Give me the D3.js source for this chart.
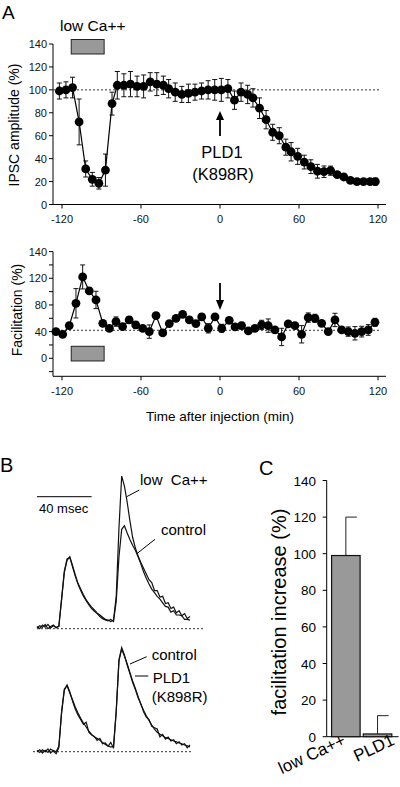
<!DOCTYPE html>
<html><head><meta charset="utf-8">
<script src="https://cdn.jsdelivr.net/npm/d3@7"></script>
<style>
html,body{margin:0;padding:0;background:#fff;}
svg{display:block;font-family:"Liberation Sans",Arial,sans-serif;}
</style></head>
<body><svg id="c" width="400" height="787"></svg>
<script>
// ---------- Panel A (top): IPSC amplitude ----------
const timesTop = [-122,-117,-112,-107,-102,-97,-92,-87,-82,-78,-73,-68,-63,-58,-53,-48,-43,-39,-34,-29,-24,-19,-14,-9,-4,1,6,11,16,21,25,30,35,40,45,50,54,59,64,69,74,79,84,89,94,99,104,109,114,118];
const ipscAmp = [99,100,102,72,31,22,18.5,30,88,104,104,105,103,103,107,105,104,101,98,96,97,98,99,100,100,100,101,91,98,96,93,84,74,63,60,50,46,42,37,33,29,28.6,29.5,26,24,21,20,20,20,20];
const ipscErr = [7,7,9,20,7,6,5,14,10,12,10,11,9,10,8,10,8,8,8,7,8,7,7,8,9,10,8,8,8,8,8,9,8,7,7,7,8,7,6,6,6,5,4,2,2,2,2,2,2,3];
// ---------- Panel A (bottom): facilitation ----------
const timesBot = [-124.6,-119.5,-114.5,-109.4,-104.3,-99.3,-94.2,-89,-84,-79,-74,-69,-64,-58.7,-53.7,-48.6,-43.5,-38.5,-33.4,-28.4,-23.3,-18.3,-13.9,-8.9,-3.8,1.3,7,11.4,16.4,21.5,26.5,31.6,36.6,41.7,46.8,51.8,56.9,62,67,72.1,77.2,82.2,87.3,92.4,97.4,102.5,107.6,112.6,117.7];
const facil = [40,36,49,82.5,122,101,87.5,52.5,45,55,47.5,57.5,50,45,40,64,38,52,60,66,57.5,52,62,45,62,45,57,47,49,41,45,50,49,42.5,32,51.5,49,36,61,60,52.5,40,57.5,42.5,40,37.5,40,42.5,54];
const facilErr = [3,3,4,22,18,4,13,4,3,7,3,5,5,4,10,3,3,3,3,3,3,3,5,7,3,6,3,4,5,3,3,7,10,4,13,3,3,13,7,6,3,3,10,3,7,10,8,8,6];
const xTicks = [-120,-60,0,60,120];
const ampTicks = [0,20,40,60,80,100,120,140];
const facTickVals = [-20,0,20,40,60,80,100,120,140,160];
const facTickLabels = {0:"0",40:"40",80:"80",120:"120",160:"140"};
const lowCaPeriod = [-113,-88];
const ampBaseline = 100, facBaseline = 42, injectionTime = 0;
// ---------- Panel B: traces (ms, normalized amplitude) ----------
const traceTimes = d3.range(0, 113, 2);
const traceCtrlTop = [3,0,5,2,6,1,4,2,3,42,80,97,99,86,73,62,53,45,39,33,28,24,21,17,14,12,11,13,10,38,100,138,143,133,124,116,109,100,90,79,70,62,55,50,45,41,36,31,30,23,25,19,19,18,13,13,12];
const traceLowCa = [1,4,2,6,0,3,5,1,4,40,78,95,100,88,75,63,55,47,40,35,30,26,22,19,16,13,12,10,12,45,140,212,198,176,150,127,112,101,92,84,76,68,64,53,53,44,45,35,36,28,30,22,25,18,21,14,17];
const traceCtrlBot = [2,-1,3,0,4,-2,2,0,8,60,94,99,88,78,67,58,50,43,37,31,26,22,20,17,14,11,9,7,8,62,136,154,143,132,119,106,95,83,71,62,54,47,40,34,29,26,24,21,20,18,16,15,13,12,10,9,7];
const tracePLD1 = [0,3,-2,2,-1,4,1,-3,6,58,92,100,90,76,64,55,48,41,44,29,25,23,17,20,12,13,8,14,5,60,138,156,145,130,117,104,93,81,72,60,52,48,38,36,34,22,26,19,22,16,18,12,15,10,12,6,10];
const scaleBarMs = 40;
// ---------- Panel C: bars ----------
const barCats = ["low Ca++","PLD1"];
const barVals = [99,1.5];
const barErrs = [21,10];
const cTicks = [0,20,40,60,80,100,120,140];

const svg = d3.select("#c");
const F = "Liberation Sans, Arial, sans-serif";

// scales
const x = d3.scaleLinear().domain([-120,120]).range([62,378]);
const yTop = d3.scaleLinear().domain([0,140]).range([204.5,44]);
const yBot = d3.scaleLinear().domain([-27,160]).range([376.3,251.6]);

function drawAxes(yS, yTickVals, labelFn, axisYpos, yTopVal) {
  const g = svg.append("g");
  // y axis line
  g.append("line").attr("x1",53).attr("x2",53).attr("y1",yS(yTopVal)).attr("y2",axisYpos).attr("stroke","#000");
  yTickVals.forEach(v=>{
    g.append("line").attr("x1",49).attr("x2",53).attr("y1",yS(v)).attr("y2",yS(v)).attr("stroke","#000");
    const lab = labelFn(v);
    if (lab!==null) g.append("text").attr("x",47).attr("y",yS(v)+4).attr("text-anchor","end")
      .attr("font-size",11).attr("fill","#111").text(lab);
  });
  g.append("line").attr("x1",53).attr("x2",386).attr("y1",axisYpos).attr("y2",axisYpos).attr("stroke","#000");
  xTicks.forEach(v=>{
    g.append("line").attr("x1",x(v)).attr("x2",x(v)).attr("y1",axisYpos).attr("y2",axisYpos+4).attr("stroke","#000");
    g.append("text").attr("x",x(v)).attr("y",axisYpos+18.5).attr("text-anchor","middle")
      .attr("font-size",11).attr("fill","#111").text(v);
  });
}
drawAxes(yTop, ampTicks, v=>String(v), yTop(0), 140);
drawAxes(yBot, facTickVals, v=> (v in facTickLabels ? facTickLabels[v] : null), yBot(-27), 160);

// baselines
svg.append("line").attr("x1",53).attr("x2",x(120)+2).attr("y1",yTop(ampBaseline)).attr("y2",yTop(ampBaseline))
  .attr("stroke","#333").attr("stroke-dasharray","2,2");
svg.append("line").attr("x1",53).attr("x2",x(120)+2).attr("y1",yBot(facBaseline)).attr("y2",yBot(facBaseline))
  .attr("stroke","#333").attr("stroke-dasharray","2,2");

function drawSeries(times, vals, errs, yS) {
  const g = svg.append("g");
  const pts = times.map((t,i)=>({t, v:vals[i], e:errs[i]}));
  pts.forEach(p=>{
    const cx = x(p.t);
    g.append("line").attr("x1",cx).attr("x2",cx).attr("y1",yS(p.v+p.e)).attr("y2",yS(p.v-p.e)).attr("stroke","#111");
    [p.v+p.e,p.v-p.e].forEach(w=>g.append("line").attr("x1",cx-2.5).attr("x2",cx+2.5).attr("y1",yS(w)).attr("y2",yS(w)).attr("stroke","#111"));
  });
  g.append("path").datum(pts).attr("fill","none").attr("stroke","#000").attr("stroke-width",1.2)
    .attr("d", d3.line().x(d=>x(d.t)).y(d=>yS(d.v)));
  g.selectAll("circle").data(pts).enter().append("circle")
    .attr("cx",d=>x(d.t)).attr("cy",d=>yS(d.v)).attr("r",4.4).attr("fill","#000");
}
drawSeries(timesTop, ipscAmp, ipscErr, yTop);
drawSeries(timesBot, facil, facilErr, yBot);

// low Ca++ boxes
svg.append("rect").attr("x",x(lowCaPeriod[0])).attr("width",x(lowCaPeriod[1])-x(lowCaPeriod[0]))
  .attr("y",39.5).attr("height",14.5).attr("fill","#999").attr("stroke","#222").attr("stroke-width",1);
svg.append("rect").attr("x",x(lowCaPeriod[0])).attr("width",x(lowCaPeriod[1])-x(lowCaPeriod[0]))
  .attr("y",yBot(18)).attr("height",yBot(-4)-yBot(18)).attr("fill","#999").attr("stroke","#222").attr("stroke-width",1);

// labels panel A
svg.append("text").attr("x",2).attr("y",19).attr("font-size",19).text("A");
svg.append("text").attr("x",60).attr("y",31).attr("font-size",15.5).text("low Ca++");
svg.append("text").attr("transform","translate(19,125) rotate(-90)").attr("text-anchor","middle").attr("font-size",14).text("IPSC amplitude (%)");
svg.append("text").attr("transform","translate(21.5,310) rotate(-90)").attr("text-anchor","middle").attr("font-size",14).text("Facilitation (%)");
svg.append("text").attr("x",220).attr("y",421).attr("text-anchor","middle").attr("font-size",13.5).text("Time after injection (min)");
svg.append("text").attr("x",222).attr("y",158).attr("text-anchor","middle").attr("font-size",16.5).text("PLD1");
svg.append("text").attr("x",223).attr("y",180).attr("text-anchor","middle").attr("font-size",16.5).text("(K898R)");

// arrows
const ax = x(injectionTime);
svg.append("line").attr("x1",ax).attr("x2",ax).attr("y1",136).attr("y2",116).attr("stroke","#000").attr("stroke-width",1.8);
svg.append("path").attr("d",`M${ax-4},${120} L${ax},${111} L${ax+4},${120} Z`).attr("fill","#000");
svg.append("line").attr("x1",ax).attr("x2",ax).attr("y1",283).attr("y2",303).attr("stroke","#000").attr("stroke-width",1.8);
svg.append("path").attr("d",`M${ax-4},${300} L${ax},${310} L${ax+4},${300} Z`).attr("fill","#000");

// ---------- Panel B ----------
const xt = d3.scaleLinear().domain([0,112]).range([37,190]);
const yT1 = d3.scaleLinear().domain([0,100]).range([628.7,556.7]);
const yT2 = d3.scaleLinear().domain([0,100]).range([751.7,685]);
svg.append("text").attr("x",0).attr("y",472).attr("font-size",20).text("B");
svg.append("line").attr("x1",xt(0)).attr("x2",xt(scaleBarMs)).attr("y1",496.7).attr("y2",496.7).attr("stroke","#000");
svg.append("text").attr("x",39).attr("y",513).attr("font-size",13).text("40 msec");
svg.append("line").attr("x1",37).attr("x2",205).attr("y1",yT1(0)).attr("y2",yT1(0)).attr("stroke","#333").attr("stroke-dasharray","2,2");
svg.append("line").attr("x1",33).attr("x2",193).attr("y1",yT2(0)).attr("y2",yT2(0)).attr("stroke","#333").attr("stroke-dasharray","2,2");
function trace(vals, yS){
  svg.append("path").datum(vals).attr("fill","none").attr("stroke","#111").attr("stroke-width",1.2)
    .attr("d", d3.line().x((d,i)=>xt(traceTimes[i])).y(d=>yS(d)));
}
trace(traceCtrlTop, yT1); trace(traceLowCa, yT1);
trace(traceCtrlBot, yT2); trace(tracePLD1, yT2);
const lead = (x1,y1,x2,y2)=>svg.append("line").attr("x1",x1).attr("y1",y1).attr("x2",x2).attr("y2",y2).attr("stroke","#000");
svg.append("text").attr("x",140).attr("y",485).attr("font-size",15).attr("xml:space","preserve").style("white-space","pre").text("low  Ca++");
lead(126.7,496.7,139.3,490);
svg.append("text").attr("x",161).attr("y",535).attr("font-size",15).text("control");
lead(137.3,553.3,155,539.3);
svg.append("text").attr("x",151.7).attr("y",660).attr("font-size",15).text("control");
lead(130,664,146.7,656.7);
svg.append("text").attr("x",152.7).attr("y",683).attr("font-size",15).text("PLD1");
lead(135,676,148.3,676);
svg.append("text").attr("x",151.7).attr("y",702).attr("font-size",15).text("(K898R)");

// ---------- Panel C ----------
const xb = d3.scaleBand().domain(barCats).range([330,393.4]).paddingInner(0.1).paddingOuter(0.05);
const yC = d3.scaleLinear().domain([0,140]).range([736.7,480.5]);
svg.append("text").attr("x",259).attr("y",475).attr("font-size",20).text("C");
svg.append("line").attr("x1",326.7).attr("x2",326.7).attr("y1",yC(140)).attr("y2",yC(0)).attr("stroke","#000");
svg.append("line").attr("x1",326.7).attr("x2",398.5).attr("y1",yC(0)).attr("y2",yC(0)).attr("stroke","#000");
cTicks.forEach(v=>{
  svg.append("line").attr("x1",322.7).attr("x2",326.7).attr("y1",yC(v)).attr("y2",yC(v)).attr("stroke","#000");
  svg.append("text").attr("x",316).attr("y",yC(v)+5).attr("text-anchor","end").attr("font-size",13.5).text(v);
});
barCats.forEach((c,i)=>{
  const bx = xb(c), bw = xb.bandwidth(), cx = bx + bw/2;
  svg.append("line").attr("x1",cx).attr("x2",cx).attr("y1",yC(barVals[i])).attr("y2",yC(barVals[i]+barErrs[i])).attr("stroke","#222");
  svg.append("line").attr("x1",cx).attr("x2",cx+11).attr("y1",yC(barVals[i]+barErrs[i])).attr("y2",yC(barVals[i]+barErrs[i])).attr("stroke","#222");
  svg.append("rect").attr("x",bx).attr("width",bw).attr("y",yC(barVals[i])).attr("height",yC(0)-yC(barVals[i]))
    .attr("fill","#999").attr("stroke","#111").attr("stroke-width",1.2);
  svg.append("text").attr("transform",`translate(${cx+ (i===0?1:18)},${744}) rotate(-25)`).attr("text-anchor","end")
    .attr("font-size",17).text(c);
});
svg.append("text").attr("transform","translate(286,612) rotate(-90)").attr("text-anchor","middle").attr("font-size",20).text("facilitation increase (%)");
</script></body></html>
